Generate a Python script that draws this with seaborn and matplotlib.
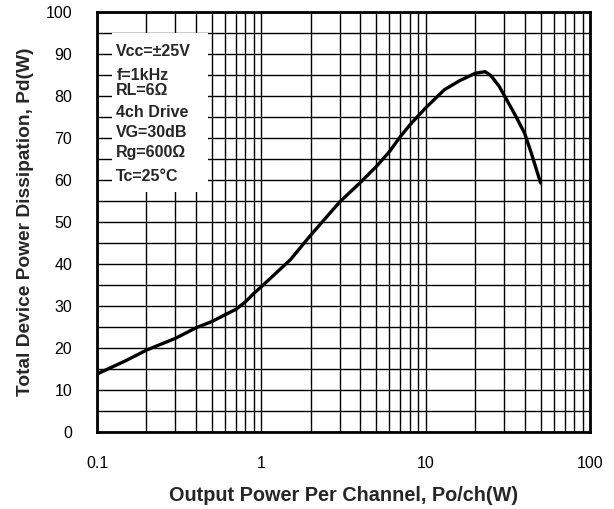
"""Power dissipation vs output power per channel (log x axis)."""

import matplotlib
matplotlib.use("Agg")
import matplotlib.pyplot as plt
from matplotlib.patches import Rectangle
from matplotlib.ticker import FixedLocator, LogLocator, NullFormatter
import pandas as pd
import seaborn as sns

# values
output_power = [0.1, 0.15, 0.2, 0.3, 0.4, 0.5, 0.6, 0.7, 0.8, 0.9, 1.0, 1.5, 2, 3, 4, 5,
                6, 7, 8, 10, 13, 16, 20, 23, 25, 28, 30, 35, 40, 44, 50]
dissipation = [13.8, 17.0, 19.5, 22.3, 24.8, 26.3, 27.9, 29.2, 31.0, 33.0, 34.6, 41.0, 46.9,
               54.8, 59.4, 63.2, 66.7, 70.3, 73.1, 77.2, 81.5, 83.6, 85.4, 85.8, 84.8, 82.3,
               80.2, 75.5, 71.1, 66.3, 59.3]

x_ticks = [0.1, 1, 10, 100]
x_tick_labels = ["0.1", "1", "10", "100"]
y_ticks = list(range(0, 101, 10))

conditions = ["Vcc=\u00b125V", "f=1kHz", "RL=6\u03a9", "4ch Drive", "VG=30dB", "Rg=600\u03a9", "Tc=25\u00b0C"]
condition_y = [90.5, 85.0, 81.3, 76.0, 71.3, 66.5, 60.8]

sns.set_style("white")
plt.rcParams["font.family"] = ["Liberation Sans", "DejaVu Sans"]

df = pd.DataFrame({"po": output_power, "pd": dissipation})

fig = plt.figure(figsize=(6.14, 5.09), dpi=100)
ax = fig.add_axes([0.158, 0.1513, 0.803, 0.8251])

sns.lineplot(data=df, x="po", y="pd", ax=ax, color="black", linewidth=2.4, zorder=3)

ax.set_xscale("log")
ax.set_xlim(0.1, 100)
ax.set_ylim(0, 100)

ax.xaxis.set_major_locator(FixedLocator(x_ticks))
ax.set_xticklabels(x_tick_labels)
ax.xaxis.set_minor_locator(LogLocator(base=10, subs=range(2, 10)))
ax.xaxis.set_minor_formatter(NullFormatter())
ax.yaxis.set_major_locator(FixedLocator(y_ticks))
ax.yaxis.set_minor_locator(FixedLocator(list(range(5, 100, 10))))

ax.set_axisbelow(True)
ax.grid(which="both", axis="both", color="black", linewidth=1.0)
ax.tick_params(which="both", length=0, labelsize=11.5, colors="black")
ax.tick_params(axis="x", pad=17)
ax.tick_params(axis="y", pad=18)

for side in ax.spines.values():
    side.set_linewidth(2)
    side.set_color("black")

# white legend box covering the grid
ax.add_patch(Rectangle((0.123, 57.1), 0.474 - 0.123, 95.0 - 57.1, facecolor="white",
                       edgecolor="none", zorder=1.5))
for label, yy in zip(conditions, condition_y):
    ax.text(0.131, yy, label, fontsize=11.5, fontweight="bold", va="center", ha="left", zorder=4)

ax.set_xlabel("Output Power Per Channel, Po/ch(W)", fontsize=14.3, fontweight="bold", labelpad=11)
ax.set_ylabel("Total Device Power Dissipation, Pd(W)", fontsize=13.8, fontweight="bold", labelpad=8)

fig.savefig("out.png", dpi=100)
